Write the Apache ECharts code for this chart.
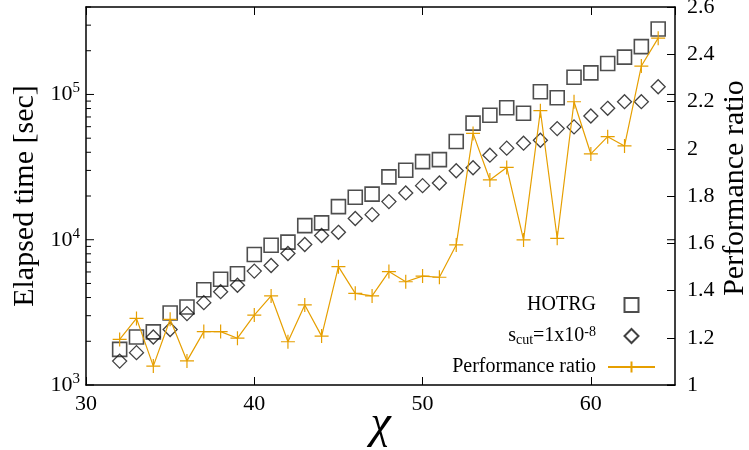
<!DOCTYPE html>
<html>
<head>
<meta charset="utf-8">
<script src="https://cdn.jsdelivr.net/npm/echarts@6/dist/echarts.min.js"></script>
<style>
  html, body { margin: 0; padding: 0; background: #fff; }
  #chart { width: 749px; height: 450px; }
</style>
</head>
<body>
<div id="chart"></div>
<script>
var chi = [32, 33, 34, 35, 36, 37, 38, 39, 40, 41, 42, 43, 44, 45, 46, 47, 48,
  49, 50, 51, 52, 53, 54, 55, 56, 57, 58, 59, 60, 61, 62, 63, 64];
// elapsed time [sec], HOTRG
var hotrgTime = [1760, 2140, 2320, 3130, 3440, 4530, 5350, 5830, 7910, 9160, 9620,
  12500, 13060, 16900, 19600, 20600, 27100, 30100, 34500, 35600, 47400, 63500,
  71900, 81100, 74200, 104400, 94900, 131500, 140800, 163400, 180600, 213600, 282500];
// elapsed time [sec], s_cut = 1x10^-8
var scutTime = [1460, 1670, 2140, 2410, 3100, 3690, 4390, 4860, 6080, 6650, 8040,
  9270, 10700, 11250, 14000, 14880, 18300, 21000, 23560, 24560, 29860, 31300,
  38200, 42700, 46200, 48400, 58200, 59800, 71100, 80300, 89200, 89200, 113000];
var perfRatio = [1.193, 1.282, 1.080, 1.278, 1.102, 1.226, 1.226, 1.198, 1.296, 1.377, 1.183,
  1.339, 1.207, 1.501, 1.388, 1.377, 1.480, 1.437, 1.461, 1.456, 1.593, 2.065,
  1.868, 1.921, 1.614, 2.161, 1.621, 2.199, 1.978, 2.051, 2.012, 2.350, 2.468];
// log axis ticks (left), minor ones drawn by hand since gnuplot style
var logMajor = [1000, 10000, 100000];
var logMinor = [2000, 3000, 4000, 5000, 6000, 7000, 8000, 9000,
  20000, 30000, 40000, 50000, 60000, 70000, 80000, 90000,
  200000, 300000, 400000];

var FONT = '"Liberation Serif", "DejaVu Serif", serif';
var ORANGE = '#E69F00';
var X_MIN = 30, X_MAX = 65;

function zip(xs, ys) {
  return xs.map(function (x, i) { return [x, ys[i]]; });
}

var tickRows = logMinor.map(function (v) { return [X_MIN, v, 5, 0]; })
  .concat(logMajor.map(function (v) { return [X_MIN, v, 8, 8]; }));

var myChart = echarts.init(document.getElementById('chart'));
var option = {
  animation: false,
  backgroundColor: '#fff',
  textStyle: { fontFamily: FONT },
  grid: {
    left: 86, right: 74, top: 7, bottom: 65,
    outerBoundsMode: 'none',
    containLabel: false,
    show: false
  },
  // right axis title, gnuplot puts it reading upwards
  graphic: [{
    type: 'text',
    x: 735,
    y: 188,
    rotation: Math.PI / 2,
    silent: true,
    style: {
      text: 'Performance ratio',
      font: '30px "Liberation Serif", "DejaVu Serif", serif',
      fill: '#000',
      align: 'center',
      verticalAlign: 'middle'
    }
  }],
  legend: {
    orient: 'vertical',
    right: 88,
    top: 290,
    align: 'right',
    itemWidth: 47,
    itemHeight: 14,
    itemGap: 10,
    selectedMode: false,
    symbolKeepAspect: true,
    textStyle: {
      fontFamily: FONT, fontSize: 20, color: '#000', lineHeight: 20,
      padding: [0, 7, 0, 0],
      rich: {
        b: { fontFamily: FONT, fontSize: 20, color: '#000' },
        sub: { fontFamily: FONT, fontSize: 14, color: '#000', padding: [8, 0, 0, 0] },
        sup: { fontFamily: FONT, fontSize: 14, color: '#000', padding: [0, 0, 8, 0] }
      }
    },
    formatter: function (name) {
      if (name === 'scut') return '{b|s}{sub|cut}{b|=1x10}{sup|-8}';
      return name;
    },
    data: [
      { name: 'HOTRG', icon: 'path://M0,0L10,0L10,10L0,10Z' },
      { name: 'scut', icon: 'path://M5,0L10,5L5,10L0,5Z' },
      'Performance ratio'
    ]
  },
  xAxis: [{
    type: 'value',
    min: X_MIN, max: X_MAX, interval: 10,
    name: 'χ',
    nameLocation: 'middle',
    nameGap: 17,
    nameMoveOverlap: false,
    nameTextStyle: { fontFamily: FONT, fontSize: 46, fontStyle: 'italic', color: '#000' },
    axisLine: { show: true, lineStyle: { color: '#000', width: 1.5 } },
    axisTick: { show: true, inside: true, length: 8, lineStyle: { color: '#000', width: 1 } },
    axisLabel: { fontFamily: FONT, fontSize: 22, color: '#000', margin: 8, showMaxLabel: false },
    splitLine: { show: false }
  }, {
    type: 'value',
    position: 'top',
    min: X_MIN, max: X_MAX, interval: 10,
    axisLine: { show: true, lineStyle: { color: '#000', width: 1.5 } },
    axisTick: { show: true, inside: true, length: 8, lineStyle: { color: '#000', width: 1 } },
    axisLabel: { show: false },
    splitLine: { show: false }
  }],
  yAxis: [{
    type: 'log',
    logBase: 10,
    min: 1000, max: 400000,
    name: 'Elapsed time [sec]',
    nameLocation: 'middle',
    nameGap: 46,
    nameMoveOverlap: false,
    nameTextStyle: { fontFamily: FONT, fontSize: 30, color: '#000' },
    axisLine: { show: true, lineStyle: { color: '#000', width: 1.5 } },
    axisTick: { show: false },
    axisLabel: {
      fontFamily: FONT, fontSize: 22, color: '#000', margin: 6,
      showMaxLabel: false,
      formatter: function (val) {
        var n = Math.round(Math.log10(val));
        if (Math.abs(Math.pow(10, n) - val) > 1e-6 * val) return '';
        return '{b|10}{sup|' + n + '}';
      },
      rich: {
        b: { fontFamily: FONT, fontSize: 22, color: '#000', lineHeight: 22 },
        sup: { fontFamily: FONT, fontSize: 15, color: '#000', padding: [0, 0, 12, 0] }
      }
    },
    splitLine: { show: false }
  }, {
    type: 'value',
    min: 1, max: 2.6, interval: 0.2,
    position: 'right',
    axisLine: { show: true, lineStyle: { color: '#000', width: 1.5 } },
    axisTick: { show: true, inside: true, length: 8, lineStyle: { color: '#000', width: 1 } },
    axisLabel: {
      fontFamily: FONT, fontSize: 22, color: '#000', margin: 12,
      padding: [6, 0, 0, 0],
      formatter: function (v) { return String(Math.round(v * 10) / 10); }
    },
    splitLine: { show: false }
  }],
  series: [{
    // gnuplot-like log ticks, inside on the left, majors mirrored on the right
    type: 'custom',
    silent: true,
    xAxisIndex: 0,
    yAxisIndex: 0,
    z: 5,
    renderItem: function (params, api) {
      var p = api.coord([X_MIN, api.value(1)]);
      var q = api.coord([X_MAX, api.value(1)]);
      var len = api.value(2), rlen = api.value(3);
      var kids = [{
        type: 'line',
        shape: { x1: p[0], y1: p[1], x2: p[0] + len, y2: p[1] },
        style: { stroke: '#000', lineWidth: 1 }
      }];
      if (rlen > 0) {
        kids.push({
          type: 'line',
          shape: { x1: q[0], y1: q[1], x2: q[0] - rlen, y2: q[1] },
          style: { stroke: '#000', lineWidth: 1 }
        });
      }
      return { type: 'group', children: kids };
    },
    data: tickRows
  }, {
    name: 'HOTRG',
    type: 'scatter',
    xAxisIndex: 0,
    yAxisIndex: 0,
    symbol: 'rect',
    symbolSize: 14,
    itemStyle: { color: 'rgba(0,0,0,0)', borderColor: '#222', borderWidth: 1.6 },
    data: zip(chi, hotrgTime)
  }, {
    name: 'scut',
    type: 'scatter',
    xAxisIndex: 0,
    yAxisIndex: 0,
    symbol: 'diamond',
    symbolSize: 14,
    itemStyle: { color: 'rgba(0,0,0,0)', borderColor: '#111', borderWidth: 1.3 },
    data: zip(chi, scutTime)
  }, {
    name: 'Performance ratio',
    type: 'line',
    xAxisIndex: 0,
    yAxisIndex: 1,
    symbol: 'path://M0,5L10,5M5,0L5,10',
    symbolSize: 14,
    showSymbol: true,
    lineStyle: { color: ORANGE, width: 1.2 },
    itemStyle: { color: ORANGE, borderColor: ORANGE, borderWidth: 1.2 },
    data: zip(chi, perfRatio)
  }]
};
myChart.setOption(option);
</script>
</body>
</html>
